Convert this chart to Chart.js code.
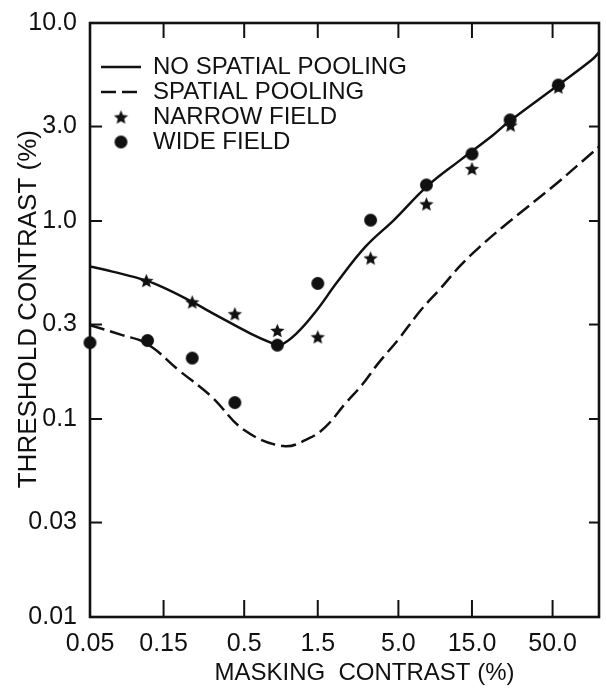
<!DOCTYPE html>
<html>
<head>
<meta charset="utf-8">
<script src="https://cdn.jsdelivr.net/npm/chart.js@4.4.0/dist/chart.umd.min.js"></script>
<style>
  html, body { margin: 0; padding: 0; background: #fff; }
  #wrap { width: 607px; height: 694px; }
</style>
</head>
<body>
<div id="wrap"><canvas id="maskChart" width="607" height="694"></canvas></div>
<script>
// Threshold vs masking contrast, both log axes.

// axis ticks
const xTickValues = [0.05, 0.15, 0.5, 1.5, 5, 15, 50];
const xTickLabels = ['0.05', '0.15', '0.5', '1.5', '5.0', '15.0', '50.0'];
const yTickValues = [0.01, 0.03, 0.1, 0.3, 1, 3, 10];
const yTickLabels = ['0.01', '0.03', '0.1', '0.3', '1.0', '3.0', '10.0'];

const seriesNames = ['NO SPATIAL POOLING', 'SPATIAL POOLING', 'NARROW FIELD', 'WIDE FIELD'];

// model curve, no spatial pooling (solid)
const noPoolX = [0.05, 0.07, 0.116, 0.16, 0.23, 0.34, 0.55, 0.77, 0.85, 1.09, 1.46, 2.0, 3.05, 4.73, 7.7, 12.6, 20.6, 26, 54.5, 89.5, 100];
const noPoolY = [0.59, 0.555, 0.50, 0.45, 0.39, 0.33, 0.27, 0.24, 0.235, 0.27, 0.35, 0.49, 0.74, 1.02, 1.5, 2.03, 2.72, 3.17, 4.86, 6.5, 7.1];

// model curve, spatial pooling (dashed)
const poolX = [0.05, 0.08, 0.117, 0.187, 0.306, 0.5, 0.9, 1.32, 1.69, 2.27, 2.9, 3.7, 4.97, 7.0, 9.4, 12.6, 16.9, 23.9, 33.6, 54.8, 89.5, 100];
const poolY = [0.298, 0.266, 0.24, 0.177, 0.13, 0.088, 0.073, 0.080, 0.0915, 0.12, 0.1485, 0.191, 0.251, 0.355, 0.457, 0.595, 0.742, 0.936, 1.16, 1.58, 2.2, 2.37];

// narrow field observations (stars)
const narrowX = [0.116, 0.23, 0.435, 0.82, 1.5, 3.3, 7.6, 15, 26.7, 54.5];
const narrowY = [0.50, 0.39, 0.34, 0.28, 0.26, 0.65, 1.22, 1.84, 3.05, 4.75];

// wide field observations (dots)
const wideX = [0.05, 0.118, 0.23, 0.435, 0.82, 1.5, 3.3, 7.6, 15, 26.5, 54.5];
const wideY = [0.243, 0.249, 0.203, 0.121, 0.236, 0.484, 1.01, 1.52, 2.18, 3.24, 4.86];

const ink = '#111';

function toPoints(xs, ys) {
  return xs.map((x, i) => ({ x: x, y: ys[i] }));
}

// filled five point star used as marker
function makeStar(r) {
  const size = Math.ceil(r * 2 + 2);
  const c = document.createElement('canvas');
  c.width = c.height = size;
  const g = c.getContext('2d');
  g.translate(size / 2, size / 2 + 0.8);
  g.beginPath();
  for (let i = 0; i < 10; i++) {
    const rad = i % 2 === 0 ? r : r * 0.45;
    const a = -Math.PI / 2 + i * Math.PI / 5;
    const px = Math.cos(a) * rad, py = Math.sin(a) * rad;
    if (i === 0) g.moveTo(px, py); else g.lineTo(px, py);
  }
  g.closePath();
  g.fillStyle = ink;
  g.fill();
  return c;
}

function makeDot(r) {
  const size = Math.ceil(r * 2 + 2);
  const c = document.createElement('canvas');
  c.width = c.height = size;
  const g = c.getContext('2d');
  g.beginPath();
  g.arc(size / 2, size / 2, r, 0, Math.PI * 2);
  g.fillStyle = ink;
  g.fill();
  return c;
}

const starImg = makeStar(7.5);
const dotImg = makeDot(6.5);

// box, inward ticks on all four sides, and legend placement
const framePlugin = {
  id: 'frame',
  beforeDraw(chart) {
    if (chart.legend) {
      chart.legend.left = 100;
      chart.legend.top = 54;
    }
  },
  afterDraw(chart) {
    const { ctx, chartArea: a, scales } = chart;
    const seg = (x1, y1, x2, y2) => {
      ctx.beginPath();
      ctx.moveTo(x1, y1);
      ctx.lineTo(x2, y2);
      ctx.stroke();
    };
    ctx.save();
    ctx.strokeStyle = ink;
    ctx.lineWidth = 2.6;
    ctx.strokeRect(a.left, a.top, a.right - a.left, a.bottom - a.top);
    ctx.lineWidth = 2;
    xTickValues.forEach(v => {
      const px = scales.x.getPixelForValue(v);
      if (px <= a.left + 1) return;
      seg(px, a.bottom, px, a.bottom - 17);
      seg(px, a.top, px, a.top + 15);
    });
    yTickValues.forEach(v => {
      const py = scales.y.getPixelForValue(v);
      if (py <= a.top + 1 || py >= a.bottom - 1) return;
      seg(a.left, py, a.left + 12, py);
      seg(a.right, py, a.right - 10, py);
    });
    ctx.restore();
  }
};

Chart.defaults.font.family = "'Liberation Sans', Arial, Helvetica, sans-serif";
Chart.defaults.color = ink;

const ctx = document.getElementById('maskChart').getContext('2d');

new Chart(ctx, {
  type: 'line',
  data: {
    datasets: [
      {
        label: seriesNames[0],
        data: toPoints(noPoolX, noPoolY),
        borderColor: ink,
        borderWidth: 2.5,
        pointRadius: 0,
        pointStyle: 'line',
        tension: 0.4,
        fill: false
      },
      {
        label: seriesNames[1],
        data: toPoints(poolX, poolY),
        borderColor: ink,
        borderWidth: 2.5,
        borderDash: [15, 6],
        pointRadius: 0,
        pointStyle: 'line',
        tension: 0.4,
        fill: false
      },
      {
        label: seriesNames[2],
        data: toPoints(narrowX, narrowY),
        showLine: false,
        pointStyle: starImg,
        pointRadius: 7,
        clip: false
      },
      {
        label: seriesNames[3],
        data: toPoints(wideX, wideY),
        showLine: false,
        pointStyle: dotImg,
        pointRadius: 7,
        clip: false
      }
    ]
  },
  options: {
    responsive: false,
    animation: false,
    events: [],
    layout: { padding: { top: 23, right: 0, bottom: 0, left: 0 } },
    scales: {
      x: {
        type: 'logarithmic',
        min: 0.05,
        max: 100,
        bounds: 'data',
        grid: { display: false },
        border: { display: false },
        afterBuildTicks: axis => {
          axis.ticks = xTickValues.map(v => ({ value: v }));
        },
        afterFit: axis => { axis.height = 77; },
        ticks: {
          autoSkip: false,
          maxRotation: 0,
          padding: 4,
          color: ink,
          font: { size: 25 },
          callback: (v, i) => xTickLabels[i]
        },
        title: {
          display: true,
          text: '      MASKING  CONTRAST (%)',
          color: ink,
          font: { size: 24 },
          padding: { top: 0, bottom: 6.6 }
        }
      },
      y: {
        type: 'logarithmic',
        min: 0.01,
        max: 10,
        bounds: 'data',
        grid: { display: false },
        border: { display: false },
        afterBuildTicks: axis => {
          axis.ticks = yTickValues.map(v => ({ value: v }));
        },
        afterFit: axis => { axis.width = 90; },
        ticks: {
          autoSkip: false,
          padding: 5,
          color: ink,
          font: { size: 25 },
          callback: (v, i) => yTickLabels[i]
        },
        title: {
          display: true,
          text: '   THRESHOLD CONTRAST (%)',
          color: ink,
          font: { size: 26 },
          padding: { top: 13.4, bottom: 0 }
        }
      }
    },
    plugins: {
      tooltip: { enabled: false },
      legend: {
        position: 'chartArea',
        align: 'start',
        labels: {
          usePointStyle: true,
          pointStyleWidth: 40,
          padding: 1,
          color: ink,
          font: { size: 24 },
          generateLabels: chart => {
            const items = Chart.defaults.plugins.legend.labels.generateLabels(chart);
            items.forEach(item => {
              const ds = chart.data.datasets[item.datasetIndex];
              item.lineDash = ds.borderDash || [];
              item.lineWidth = ds.borderWidth || 2.5;
              item.strokeStyle = ink;
              item.fontColor = ink;
            });
            return items;
          }
        }
      }
    }
  },
  plugins: [framePlugin]
});
</script>
</body>
</html>
